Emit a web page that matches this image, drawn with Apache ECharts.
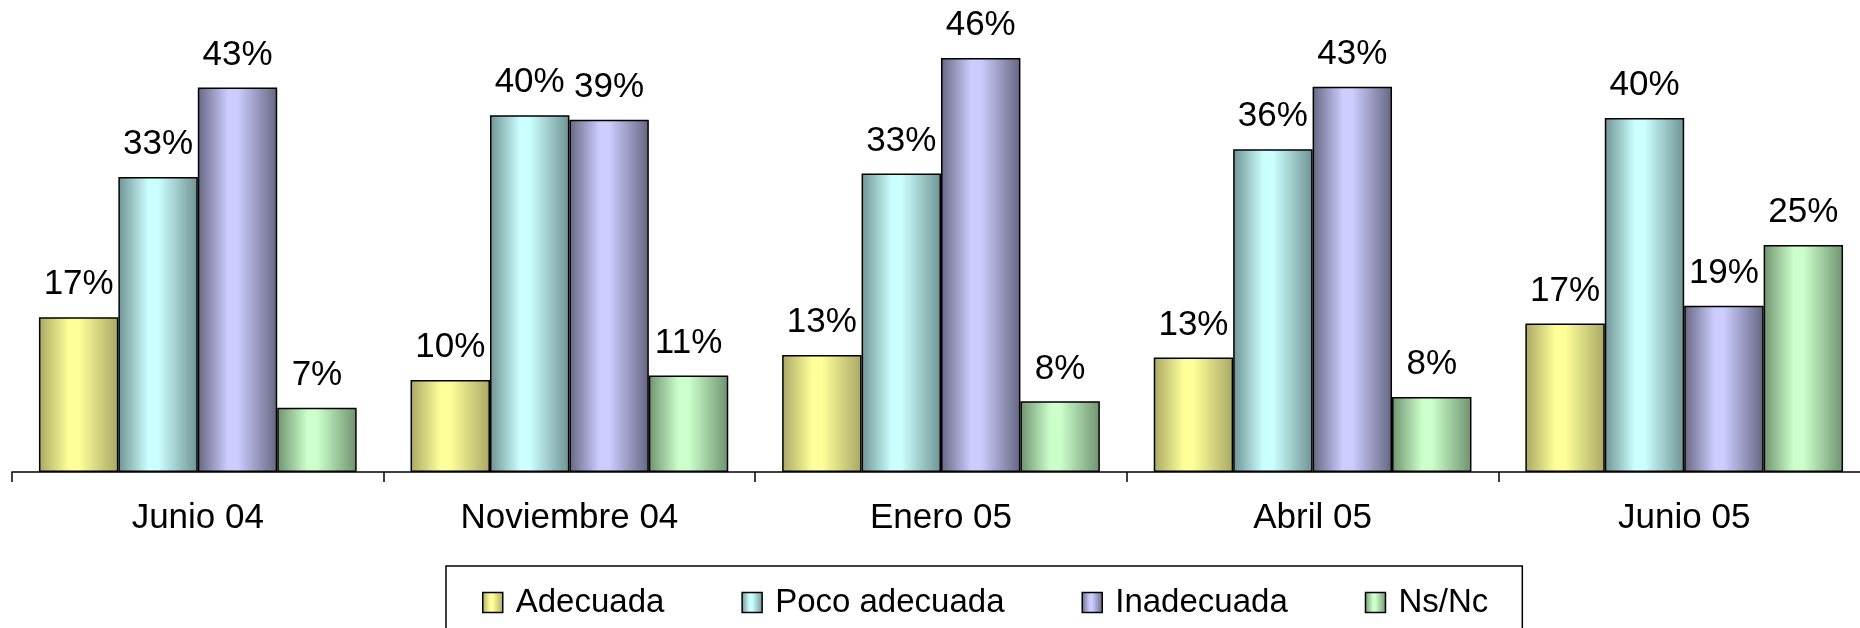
<!DOCTYPE html>
<html>
<head>
<meta charset="utf-8">
<script src="https://cdn.jsdelivr.net/npm/echarts@6/dist/echarts.min.js"></script>
<style>html,body{margin:0;padding:0;background:#fff;overflow:hidden;}#c{width:1860px;height:628px;}</style>
</head>
<body>
<div id="c"></div>
<script>
var categories = ['Junio 04', 'Noviembre 04', 'Enero 05', 'Abril 05', 'Junio 05'];
var seriesNames = ['Adecuada', 'Poco adecuada', 'Inadecuada', 'Ns/Nc'];
var adecuada = [17.3, 10.3, 13.1, 12.8, 16.6];
var pocoAdecuada = [33.0, 39.9, 33.4, 36.1, 39.6];
var inadecuada = [43.0, 39.4, 46.3, 43.1, 18.6];
var nsNc = [7.2, 10.8, 7.9, 8.4, 25.4];

var edgeColors = ['#a9a865', '#6f9393', '#666682', '#6f936f'];
var lightColors = ['#ffff99', '#ccffff', '#ccccff', '#ccffcc'];
var values = [adecuada, pocoAdecuada, inadecuada, nsNc];

function grad(i) {
  return new echarts.graphic.LinearGradient(0, 0, 1, 0, [
    {offset: 0, color: edgeColors[i]},
    {offset: 0.38, color: lightColors[i]},
    {offset: 0.5, color: lightColors[i]},
    {offset: 1, color: edgeColors[i]}
  ]);
}

var FONT = 'Liberation Sans, Arial, sans-serif';
var chart = echarts.init(document.getElementById('c'));
var series = seriesNames.map(function (n, i) {
  return {
    name: n,
    type: 'bar',
    data: values[i],
    barGap: '0%',
    barCategoryGap: '14.5%',
    itemStyle: {color: grad(i), borderColor: '#000', borderWidth: 1.5},
    label: {
      show: true, position: 'top', distance: 15,
      color: '#000', fontSize: 35, fontFamily: FONT,
      formatter: function (p) { return Math.round(p.value) + '%'; }
    }
  };
});

chart.setOption({
  animation: false,
  backgroundColor: '#fff',
  grid: {left: 12, width: 1858, top: 25, bottom: 156, containLabel: false, outerBoundsMode: 'none'},
  xAxis: {
    type: 'category', data: categories,
    axisLine: {lineStyle: {color: '#000', width: 1.5}},
    axisTick: {show: true, length: 10, lineStyle: {color: '#000', width: 1.5}},
    axisLabel: {color: '#000', fontSize: 35, fontFamily: FONT, margin: 29}
  },
  yAxis: {type: 'value', min: 0, max: 50, show: false, splitLine: {show: false}},
  legend: {
    data: seriesNames.map(function (n, i) {
      return {name: n, itemStyle: {color: grad(i), borderColor: '#000', borderWidth: 1.5}};
    }),
    left: 446, top: 566,
    icon: 'rect', itemWidth: 20, itemHeight: 20, itemGap: 77,
    padding: [20, 34, 60, 36],
    borderColor: '#000', borderWidth: 1.5,
    textStyle: {color: '#000', fontSize: 33, fontFamily: FONT, padding: [0, 0, 0, 8]}
  },
  series: series
});
</script>
</body>
</html>
